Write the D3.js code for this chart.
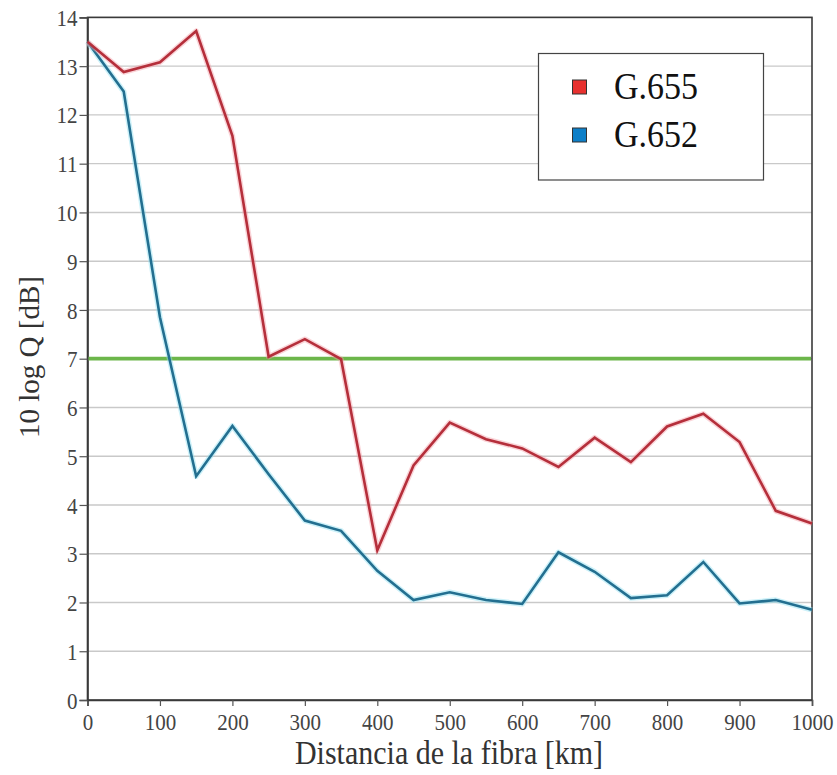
<!DOCTYPE html>
<html>
<head>
<meta charset="utf-8">
<script src="https://cdn.jsdelivr.net/npm/d3@7/dist/d3.min.js"></script>
<style>
  html, body { margin: 0; padding: 0; background: #fff; }
  svg { display: block; font-family: "Liberation Serif", "DejaVu Serif", serif; }
</style>
</head>
<body>
<svg id="chart" width="837" height="775"></svg>
<script>
// Fiber distance (km) sampled every 50 km
const distances = [0, 50, 100, 150, 200, 250, 300, 350, 400, 450, 500,
                   550, 600, 650, 700, 750, 800, 850, 900, 950, 1000];

// 10 log Q [dB] for each fiber type
const g655 = [13.5, 12.88, 13.08, 13.72, 11.57, 7.04, 7.4, 6.99, 3.07, 4.81, 5.69,
              5.35, 5.16, 4.78, 5.38, 4.88, 5.61, 5.87, 5.29, 3.88, 3.62];
const g652 = [13.5, 12.48, 7.85, 4.59, 5.62, 4.63, 3.68, 3.47, 2.65, 2.05, 2.21,
              2.05, 1.97, 3.03, 2.63, 2.09, 2.15, 2.83, 1.98, 2.05, 1.85];

const threshold = 7.0;

const xTicks = [0, 100, 200, 300, 400, 500, 600, 700, 800, 900, 1000];
const yTicks = [0, 1, 2, 3, 4, 5, 6, 7, 8, 9, 10, 11, 12, 13, 14];

const seriesNames = ["G.655", "G.652"];
const seriesColors = ["#b52f3b", "#236f90"];
const legendColors = ["#e8312f", "#0d7fc8"];
const haloColors = ["#f4a0a8", "#8fe0f2"];

// Glyphs are drawn slightly tall, as in the printed figure
const textStretch = 1.13;

const svg = d3.select("#chart");
const plotLeft = 87.5, plotRight = 812, plotTop = 17.4, plotBottom = 700;

const x = d3.scaleLinear().domain([0, 1000]).range([plotLeft, plotRight]);
const y = d3.scaleLinear().domain([0, 14]).range([plotBottom, plotTop]);

// Horizontal grid lines
svg.append("g")
  .selectAll("line")
  .data(yTicks.filter(d => d > 0))
  .join("line")
  .attr("x1", plotLeft).attr("x2", plotRight)
  .attr("y1", d => y(d)).attr("y2", d => y(d))
  .attr("stroke", "#c9c9c9")
  .attr("stroke-width", 1.4);

// Frame
svg.append("rect")
  .attr("x", plotLeft).attr("y", plotTop)
  .attr("width", plotRight - plotLeft).attr("height", plotBottom - plotTop)
  .attr("fill", "none")
  .attr("stroke", "#3a3a3a")
  .attr("stroke-width", 1.6);

// Axes
const xAxis = d3.axisBottom(x).tickValues(xTicks).tickSize(6).tickPadding(4).tickFormat(d3.format("d"));
const yAxis = d3.axisLeft(y).tickValues(yTicks).tickSize(8).tickPadding(2).tickFormat(d3.format("d"));

const gx = svg.append("g").attr("transform", `translate(0,${plotBottom})`).call(xAxis);
const gy = svg.append("g").attr("transform", `translate(${plotLeft},0)`).call(yAxis);

[gx, gy].forEach(g => {
  g.attr("font-family", null);
  g.select(".domain").attr("stroke", "#3a3a3a").attr("stroke-width", 1.6);
  g.selectAll(".tick line").attr("stroke", "#555").attr("stroke-width", 1.2);
  g.selectAll(".tick text")
    .attr("fill", "#444")
    .attr("transform", `scale(1,${textStretch})`)
    .style("font-family", "'Liberation Serif', serif")
    .style("font-size", "21px");
});
gx.selectAll(".tick text").attr("dy", "0.8em");
gy.selectAll(".tick text").attr("dy", "0.34em");

// Threshold line
svg.append("line")
  .attr("x1", plotLeft + 1).attr("x2", plotRight - 1)
  .attr("y1", y(threshold)).attr("y2", y(threshold))
  .attr("stroke", "#6cb64a")
  .attr("stroke-width", 3.8);

// Series lines
const line = d3.line().x((d, i) => x(distances[i])).y(d => y(d));
[g652, g655].forEach((vals, k) => {
  const idx = k === 0 ? 1 : 0;
  svg.append("path")
    .datum(vals)
    .attr("fill", "none")
    .attr("stroke", haloColors[idx])
    .attr("stroke-opacity", 0.45)
    .attr("stroke-width", 5.5)
    .attr("stroke-linejoin", "round")
    .attr("d", line);
  svg.append("path")
    .datum(vals)
    .attr("fill", "none")
    .attr("stroke", seriesColors[idx])
    .attr("stroke-width", 2.6)
    .attr("stroke-linejoin", "miter")
    .attr("d", line);
});

// Legend
const legend = svg.append("g");
legend.append("rect")
  .attr("x", 538.5).attr("y", 53.5)
  .attr("width", 225).attr("height", 126.5)
  .attr("fill", "#fff")
  .attr("stroke", "#444")
  .attr("stroke-width", 1.2);
seriesNames.forEach((name, i) => {
  const cy = 87 + i * 48;
  legend.append("rect")
    .attr("x", 572.5).attr("y", cy - 7)
    .attr("width", 14).attr("height", 14)
    .attr("fill", legendColors[i])
    .attr("stroke", "#333")
    .attr("stroke-width", 1);
  legend.append("text")
    .attr("transform", `translate(614,${cy + 12}) scale(1,${textStretch})`)
    .attr("fill", "#111")
    .style("font-size", "34px")
    .text(name);
});

// Axis titles
svg.append("text")
  .attr("transform", `translate(449,764) scale(1,${textStretch})`)
  .attr("text-anchor", "middle")
  .attr("fill", "#333")
  .style("font-size", "30px")
  .text("Distancia de la fibra [km]");

svg.append("text")
  .attr("transform", "translate(39,357) rotate(-90)")
  .attr("text-anchor", "middle")
  .attr("fill", "#333")
  .style("font-size", "29px")
  .text("10 log Q [dB]");
</script>
</body>
</html>
